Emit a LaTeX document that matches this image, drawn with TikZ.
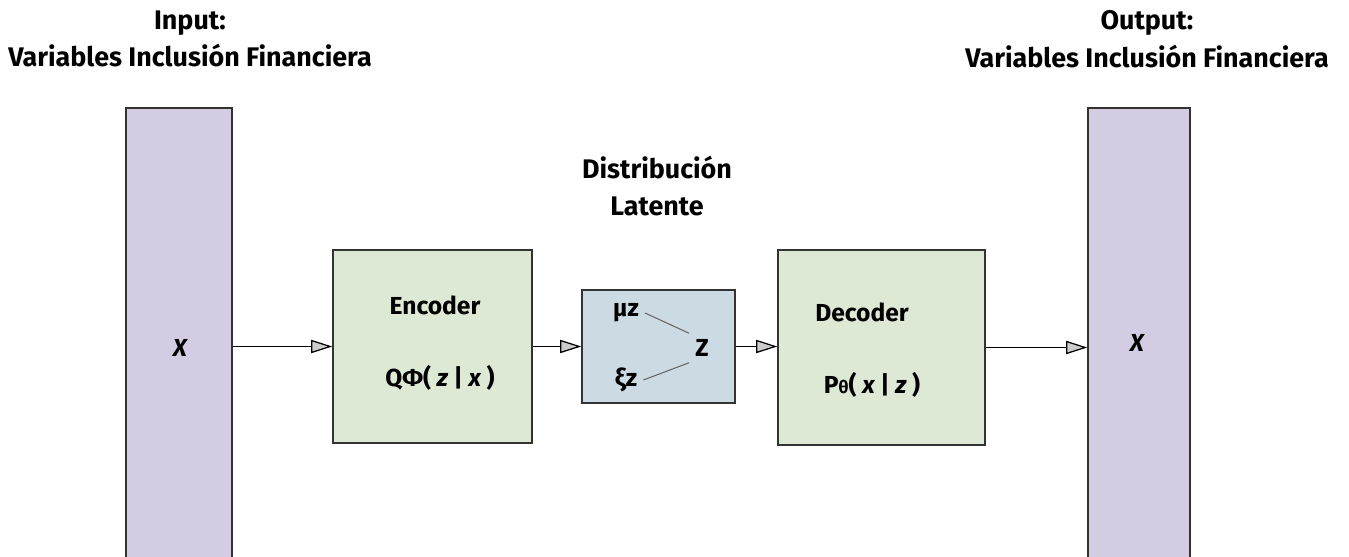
\documentclass[tikz,border=0pt]{standalone}
\usepackage{fontspec}
\setmainfont{Fira Sans}
\usetikzlibrary{arrows.meta}
\definecolor{barlila}{HTML}{D3CCE3}
\definecolor{boxverde}{HTML}{DDE8D5}
\definecolor{boxazul}{HTML}{CCDAE3}
\begin{document}
\begin{tikzpicture}[x=0.02cm,y=-0.02cm,
		bloque/.style={draw=black!80,line width=0.9pt,minimum width=#1,inner sep=0pt},
		flecha/.style={line width=0.7pt,-{Triangle[open,length=12pt,width=7.5pt,fill=black!20]}},
		titulo/.style={font=\bfseries\fontsize{15.3}{21.5}\selectfont,align=center},
		etiq/.style={font=\bfseries\fontsize{14}{16}\selectfont}
	]
	\useasboundingbox (0,0) rectangle (1349,557);
	% columnas de entrada y salida
	\node[bloque=2.12cm,fill=barlila,minimum height=9.08cm] (inL) at (179,335) {};
	\node[bloque=2.04cm,fill=barlila,minimum height=9.08cm] (outR) at (1139,335) {};
	\node[etiq] (xin) at (180,348) {\itshape X};
	\node[etiq] (xout) at (1137,343) {\itshape X};
	% bloques centrales
	\node[bloque=3.98cm,fill=boxverde,minimum height=3.86cm] (enc) at (432.5,346.5) {};
	\node[bloque=3.06cm,fill=boxazul,minimum height=2.26cm] (lat) at (658.5,346.5) {};
	\node[bloque=4.14cm,fill=boxverde,minimum height=3.9cm] (dec) at (881.5,347.5) {};
	\node[etiq] (encT) at (435,305) {Encoder};
	\node[etiq] (encQ) at (440,378) {QΦ( \itshape z \upshape| \itshape x \upshape)};
	\node[etiq] (decT) at (862,312) {Decoder};
	\node[etiq] (decP) at (872,385) {P{\fontsize{10}{11}\selectfont θ}( \itshape x \upshape| \itshape z \upshape)};
	% distribucion latente
	\node[etiq] (mu) at (626,313) {μz};
	\node[etiq] (xi) at (626,380) {ξz};
	\node[etiq] (zz) at (702,348) {Z};
	\draw[black!60,line width=0.6pt] (mu.east) -- (zz.north west);
	\draw[black!60,line width=0.6pt] (zz.south west) -- (xi.east);
	% titulos
	\node[titulo] (tin) at (190,39) {Input:\\Variables Inclusión Financiera};
	\node[titulo] (tout) at (1147,39) {Output:\\Variables Inclusión Financiera};
	\node[titulo] (tlat) at (657,186) {Distribución\\Latente};
	% flechas
	\draw[flecha] (inL.east |- enc.west) -- (enc.west);
	\draw[flecha] (enc.east) -- (lat.west);
	\draw[flecha] (lat.east) -- (dec.west |- lat.east);
	\draw[flecha] (dec.east) -- (outR.west |- dec.east);
\end{tikzpicture}
\end{document}
